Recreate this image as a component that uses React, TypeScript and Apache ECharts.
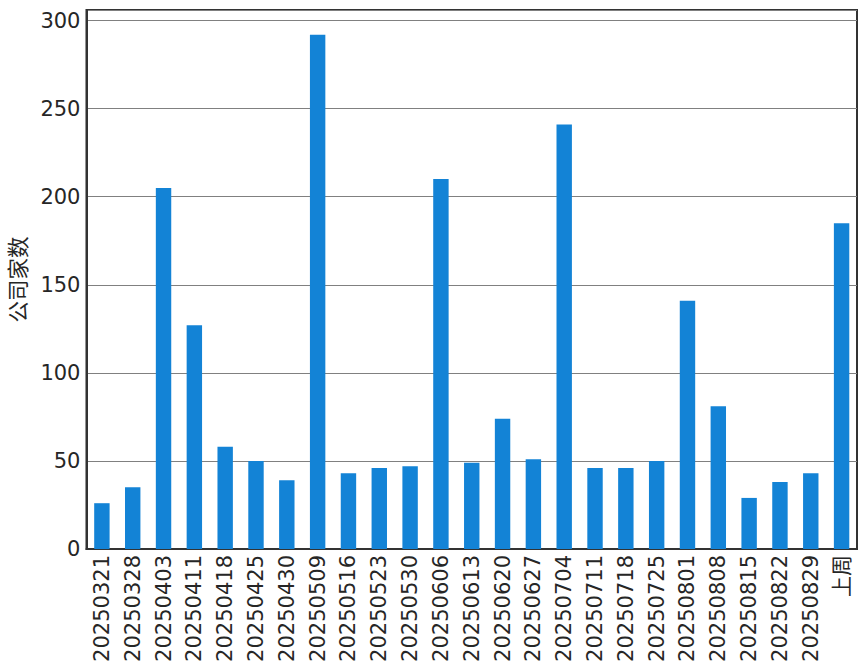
import React, { useEffect, useRef } from "react";
import * as echarts from "echarts";

const categories = [
  "20250321", "20250328", "20250403", "20250411", "20250418", "20250425", "20250430",
  "20250509", "20250516", "20250523", "20250530", "20250606", "20250613", "20250620",
  "20250627", "20250704", "20250711", "20250718", "20250725", "20250801", "20250808",
  "20250815", "20250822", "20250829", "上周",
];
const companyCounts = [
  26, 35, 205, 127, 58, 50, 39, 292, 43, 46, 47, 210, 49, 74, 51, 241, 46, 46, 50, 141, 81,
  29, 38, 43, 185,
];
const yAxisName = "公司家数";
const yTicks = [0, 50, 100, 150, 200, 250, 300];

const FONT = "'DejaVu Sans', 'Noto Sans CJK SC', sans-serif";

export default function App() {
  const ref = useRef<HTMLDivElement>(null);
  useEffect(() => {
    if (!ref.current) return;
    const chart = echarts.init(ref.current, null, { renderer: "svg" });
    chart.setOption({
      animation: false,
      backgroundColor: "#ffffff",
      grid: {
        left: 82,
        right: 9,
        top: 10,
        bottom: 119,
        show: true,
        borderColor: "#333333",
        borderWidth: 2,
      },
      xAxis: {
        type: "category",
        data: categories,
        axisLine: { show: true, lineStyle: { color: "#333333", width: 2 } },
        axisTick: { show: false },
        axisLabel: {
          rotate: 90,
          interval: 0,
          margin: 6,
          color: "#262626",
          fontSize: 21,
          fontFamily: FONT,
        },
        splitLine: { show: false },
      },
      yAxis: {
        type: "value",
        min: 0,
        max: 306,
        interval: 50,
        name: yAxisName,
        nameLocation: "middle",
        nameRotate: 90,
        nameGap: 51,
        nameTextStyle: { fontSize: 21.5, color: "#262626", fontFamily: FONT },
        axisLine: { show: true, lineStyle: { color: "#333333", width: 2 } },
        axisTick: { show: false },
        axisLabel: {
          margin: 6,
          color: "#262626",
          fontSize: 21,
          fontFamily: FONT,
          formatter: (v: number) => (yTicks.includes(v) ? String(v) : ""),
        },
        splitLine: { show: true, lineStyle: { color: "#808080", width: 1.2 } },
      },
      series: [
        {
          type: "bar",
          data: companyCounts,
          barWidth: "50%",
          itemStyle: { color: "#1383d6" },
        },
      ],
    });
    return () => chart.dispose();
  }, []);
  return (
    <div
      ref={ref}
      style={{ position: "fixed", left: 0, top: 0, width: 866, height: 668 }}
    />
  );
}
